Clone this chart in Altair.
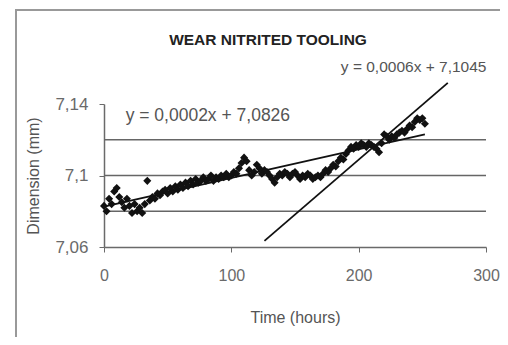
import altair as alt
import pandas as pd

# ---- data ----
time_h = [0, 2, 4, 6, 8, 10, 12, 14, 16, 18, 20, 22, 24, 26, 28, 30, 32, 34, 36, 38,
          40, 42, 44, 46, 48, 50, 52, 54, 56, 58, 60, 62, 64, 66, 68, 70, 72, 74, 76, 78,
          80, 82, 84, 86, 88, 90, 92, 94, 96, 98, 100, 102, 104, 106, 108, 110, 112, 114, 116, 118,
          120, 122, 124, 126, 128, 130, 132, 134, 136, 138, 140, 142, 144, 146, 148, 150, 152, 154, 156, 158,
          160, 162, 164, 166, 168, 170, 172, 174, 176, 178, 180, 182, 184, 186, 188, 190, 192, 194, 196, 198,
          200, 202, 204, 206, 208, 210, 212, 214, 216, 218, 220, 222, 224, 226, 228, 230, 232, 234, 236, 238,
          240, 242, 244, 246, 248, 250, 252]
dimension_mm = [7.083, 7.080, 7.087, 7.084, 7.091, 7.093, 7.088, 7.085, 7.082, 7.087,
                7.083, 7.079, 7.084, 7.080, 7.082, 7.079, 7.084, 7.097, 7.086, 7.088,
                7.087, 7.090, 7.089, 7.091, 7.092, 7.090, 7.093, 7.091, 7.094, 7.092,
                7.095, 7.093, 7.096, 7.094, 7.097, 7.095, 7.098, 7.096, 7.097, 7.099,
                7.097, 7.098, 7.100, 7.097, 7.099, 7.098, 7.100, 7.099, 7.101, 7.099,
                7.100, 7.102, 7.101, 7.104, 7.107, 7.110, 7.108, 7.103, 7.100, 7.102,
                7.106, 7.104, 7.101, 7.103, 7.102, 7.100, 7.098, 7.096, 7.099, 7.101,
                7.100, 7.102, 7.101, 7.099, 7.101, 7.102, 7.100, 7.098, 7.100, 7.099,
                7.101, 7.100, 7.098, 7.099, 7.100, 7.099, 7.101, 7.103, 7.102, 7.104,
                7.106, 7.105, 7.108, 7.110, 7.109, 7.112, 7.114, 7.116, 7.115, 7.117,
                7.116, 7.118, 7.117, 7.116, 7.118, 7.117, 7.116, 7.115, 7.113, 7.118,
                7.123, 7.122, 7.120, 7.122, 7.121, 7.123, 7.124, 7.125, 7.124, 7.126,
                7.128, 7.127, 7.130, 7.132, 7.131, 7.132, 7.129]

trend1_x = [0, 252]
trend1_y = [7.0826, 7.123]
trend2_x = [126, 270]
trend2_y = [7.0634, 7.1518]

grid_levels = [7.08, 7.10, 7.12]
y_ticks = [7.06, 7.08, 7.10, 7.12, 7.14]
x_ticks = [0, 100, 200, 300]

chart_title = "WEAR NITRITED TOOLING"
eq_text = ["y = 0,0002x + 7,0826", "y = 0,0006x + 7,1045"]
eq_x = [17, 186]
eq_y = [7.1332, 7.1608]

FONT = "Liberation Sans, Arial, sans-serif"
GRAY = "#6a6a6a"

pts = pd.DataFrame({"t": time_h, "d": dimension_mm})
t1 = pd.DataFrame({"t": trend1_x, "d": trend1_y})
t2 = pd.DataFrame({"t": trend2_x, "d": trend2_y})
grid = pd.DataFrame({"d": grid_levels})
eq1 = pd.DataFrame({"t": [eq_x[0]], "d": [eq_y[0]], "s": [eq_text[0]]})
eq2 = pd.DataFrame({"t": [eq_x[1]], "d": [eq_y[1]], "s": [eq_text[1]]})
ttl = pd.DataFrame({"s": [chart_title]})

xs = alt.Scale(domain=[0, 300], nice=False)
ys = alt.Scale(domain=[7.06, 7.14], nice=False, zero=False)

x_enc = alt.X("t:Q", scale=xs, title="Time (hours)",
              axis=alt.Axis(values=x_ticks, grid=False, domainColor=GRAY, domainWidth=1.5,
                            tickColor=GRAY, tickSize=5, labelPadding=15, labelFlush=False,
                            labelFont=FONT, labelFontSize=16, labelColor=GRAY,
                            titleFont=FONT, titleFontSize=16, titleColor="#555",
                            titleFontWeight="normal", titlePadding=26))
y_enc = alt.Y("d:Q", scale=ys, title="Dimension (mm)",
              axis=alt.Axis(values=y_ticks, grid=False, domainColor=GRAY, domainWidth=1.5,
                            tickColor=GRAY, tickSize=5, labelPadding=11, labelFlush=False,
                            labelExpr="replace(format(datum.value, '.2~f'), '.', ',')",
                            labelFont=FONT, labelFontSize=17, labelColor=GRAY,
                            titleFont=FONT, titleFontSize=16, titleColor="#555",
                            titleFontWeight="normal", titlePadding=13))

frame = alt.Chart(pd.DataFrame({"a": [0]})).mark_rect(
    fill=None, stroke="#999", strokeWidth=2, clip=False
).encode(x=alt.value(-88), x2=alt.value(410), y=alt.value(-94), y2=alt.value(236))

gridlines = alt.Chart(grid).mark_rule(color="#666", strokeWidth=1.5).encode(
    y=alt.Y("d:Q", scale=ys))

scatter = alt.Chart(pts).mark_point(
    shape="diamond", filled=True, color="#111", size=65, opacity=1
).encode(x=x_enc, y=y_enc)

line1 = alt.Chart(t1).mark_line(color="#111", strokeWidth=1.8).encode(
    x=alt.X("t:Q", scale=xs), y=alt.Y("d:Q", scale=ys))
line2 = alt.Chart(t2).mark_line(color="#111", strokeWidth=1.8, clip=False).encode(
    x=alt.X("t:Q", scale=xs), y=alt.Y("d:Q", scale=ys))

text1 = alt.Chart(eq1).mark_text(
    align="left", baseline="middle", font=FONT, fontSize=17.5, color="#555", clip=False
).encode(x=alt.X("t:Q", scale=xs), y=alt.Y("d:Q", scale=ys), text="s:N")
text2 = alt.Chart(eq2).mark_text(
    align="left", baseline="middle", font=FONT, fontSize=15.5, color="#555", clip=False
).encode(x=alt.X("t:Q", scale=xs), y=alt.Y("d:Q", scale=ys), text="s:N")

title_mark = alt.Chart(ttl).mark_text(
    align="center", baseline="middle", font=FONT, fontSize=15.5, fontWeight="bold",
    color="#222", clip=False
).encode(x=alt.value(164), y=alt.value(-64), text="s:N")

chart = alt.layer(frame, gridlines, scatter, line1, line2, text1, text2, title_mark).properties(
    width=382, height=143,
    autosize=alt.AutoSizeParams(type="none"),
    padding={"left": 96, "top": 96, "right": 14, "bottom": 90},
    background="white",
).configure_view(stroke=None)

chart.save("out.html", embed_options={"renderer": "svg", "actions": False})
